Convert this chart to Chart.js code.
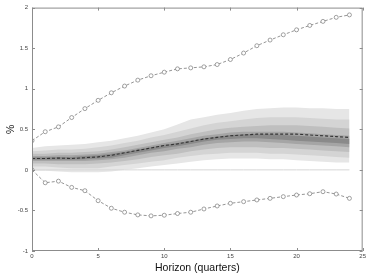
<!DOCTYPE html>
<html>
<head>
<meta charset="utf-8">
<script src="https://cdn.jsdelivr.net/npm/chart.js@4"></script>
<style>
  html, body { margin: 0; padding: 0; background: #fff; }
  #wrap { width: 368px; height: 277px; position: relative; }
</style>
</head>
<body>
<div id="wrap"><canvas id="c"></canvas></div>
<script>
// ── DATA ────────────────────────────────────────────────────
const horizons = [0,1,2,3,4,5,6,7,8,9,10,11,12,13,14,15,16,17,18,19,20,21,22,23,24];

const median = [0.14,0.14,0.145,0.14,0.15,0.16,0.18,0.21,0.24,0.27,0.30,0.32,0.35,0.38,0.40,0.42,0.43,0.44,0.44,0.44,0.44,0.43,0.42,0.41,0.40];

const upperBound = [0.36,0.47,0.53,0.645,0.755,0.857,0.95,1.033,1.106,1.16,1.204,1.245,1.257,1.27,1.298,1.36,1.44,1.53,1.60,1.665,1.726,1.78,1.83,1.88,1.91];
const lowerBound = [0.0,-0.159,-0.139,-0.216,-0.257,-0.38,-0.473,-0.522,-0.555,-0.567,-0.559,-0.538,-0.522,-0.482,-0.445,-0.412,-0.392,-0.371,-0.351,-0.33,-0.31,-0.294,-0.269,-0.298,-0.351];

// fan bands, outer (5) to inner (1)
const up5 = [0.27,0.29,0.30,0.31,0.32,0.34,0.36,0.39,0.42,0.46,0.50,0.56,0.62,0.65,0.68,0.70,0.73,0.75,0.76,0.77,0.77,0.76,0.76,0.75,0.75];
const lo5 = [-0.01,-0.01,-0.02,-0.03,-0.03,-0.03,-0.02,0.0,0.02,0.04,0.06,0.08,0.10,0.12,0.13,0.14,0.14,0.14,0.13,0.13,0.12,0.11,0.10,0.09,0.09];
const up4 = [0.23,0.24,0.25,0.25,0.26,0.28,0.30,0.33,0.36,0.40,0.43,0.47,0.51,0.55,0.58,0.60,0.62,0.64,0.65,0.65,0.65,0.64,0.63,0.62,0.62];
const lo4 = [0.04,0.04,0.03,0.02,0.02,0.02,0.04,0.06,0.08,0.10,0.12,0.15,0.17,0.19,0.20,0.21,0.21,0.21,0.20,0.20,0.19,0.18,0.17,0.16,0.15];
const up3 = [0.20,0.20,0.21,0.21,0.22,0.23,0.25,0.28,0.31,0.34,0.37,0.40,0.44,0.47,0.50,0.52,0.53,0.54,0.55,0.55,0.55,0.54,0.53,0.52,0.51];
const lo3 = [0.08,0.08,0.07,0.07,0.07,0.08,0.09,0.11,0.13,0.16,0.18,0.20,0.23,0.25,0.27,0.28,0.28,0.28,0.27,0.27,0.26,0.25,0.24,0.23,0.22];
const up2 = [0.17,0.17,0.18,0.18,0.19,0.20,0.22,0.24,0.27,0.30,0.33,0.36,0.39,0.42,0.44,0.46,0.47,0.47,0.47,0.47,0.46,0.45,0.44,0.43,0.42];
const lo2 = [0.11,0.11,0.11,0.11,0.11,0.12,0.13,0.15,0.18,0.21,0.23,0.26,0.28,0.31,0.33,0.34,0.35,0.35,0.34,0.33,0.32,0.31,0.30,0.29,0.28];
const up1 = [0.155,0.155,0.16,0.16,0.17,0.18,0.20,0.22,0.25,0.28,0.31,0.33,0.36,0.39,0.41,0.43,0.44,0.44,0.44,0.43,0.42,0.41,0.40,0.39,0.38];
const lo1 = [0.125,0.125,0.125,0.125,0.13,0.14,0.15,0.18,0.21,0.24,0.27,0.29,0.32,0.35,0.37,0.38,0.39,0.39,0.38,0.37,0.36,0.35,0.34,0.33,0.32];

const zeroLine = [0,0,0,0,0,0,0,0,0,0,0,0,0,0,0,0,0,0,0,0,0,0,0,0,0];

const xTicks = [0,5,10,15,20,25];
const yTicks = [-1,-0.5,0,0.5,1,1.5,2];

// ── HELPERS ─────────────────────────────────────────────────
const pts = arr => horizons.map((h, i) => ({ x: h, y: arr[i] }));

function band(arr, color, target) {
  return { data: pts(arr), borderWidth: 0, pointRadius: 0, backgroundColor: color,
           fill: target === undefined ? false : { target: target } };
}

function circles(arr) {
  return { data: pts(arr), borderColor: '#7a7a7a', borderWidth: 0.8, borderDash: [3, 2],
           pointStyle: 'circle', pointRadius: 2, pointBorderWidth: 0.7,
           pointBorderColor: '#7a7a7a', pointBackgroundColor: '#fff', fill: false, tension: 0 };
}

// index layout: 0 median, 1 upper, 2 lower, 3 zero, then bands (inner first, drawn on top)
const datasets = [
  { data: pts(median), borderColor: '#333', borderWidth: 1.1, borderDash: [3, 2], pointRadius: 0, fill: false },
  circles(upperBound),
  circles(lowerBound),
  { data: pts(zeroLine), borderColor: '#d6d6d6', borderWidth: 1, pointRadius: 0, fill: false },
  band(up1, '#8a8a8a', 5), band(lo1),
  band(up2, '#a5a5a5', 7), band(lo2),
  band(up3, '#bfbfbf', 9), band(lo3),
  band(up4, '#d4d4d4', 11), band(lo4),
  band(up5, '#e6e6e6', 13), band(lo5)
];

// ── AXES BOX + INWARD TICKS ─────────────────────────────────
const boxTicks = {
  id: 'boxTicks',
  afterDraw(chart) {
    const { ctx, chartArea: a, scales: { x, y } } = chart;
    ctx.save();
    ctx.strokeStyle = '#8c8c8c';
    ctx.lineWidth = 1;
    ctx.strokeRect(a.left + 0.5, a.top + 0.5, a.right - a.left - 1, a.bottom - a.top - 1);
    ctx.beginPath();
    xTicks.forEach(v => {
      const px = Math.round(x.getPixelForValue(v)) + 0.5;
      ctx.moveTo(px, a.bottom); ctx.lineTo(px, a.bottom - 3);
      ctx.moveTo(px, a.top); ctx.lineTo(px, a.top + 3);
    });
    yTicks.forEach(v => {
      const py = Math.round(y.getPixelForValue(v)) + 0.5;
      ctx.moveTo(a.left, py); ctx.lineTo(a.left + 3, py);
      ctx.moveTo(a.right, py); ctx.lineTo(a.right - 3, py);
    });
    ctx.stroke();
    ctx.restore();
  }
};

new Chart(document.getElementById('c'), {
  type: 'line',
  data: { datasets },
  options: {
    responsive: true, maintainAspectRatio: false, animation: false,
    layout: { padding: { top: 6, right: 3, left: 0, bottom: 0 } },
    plugins: { legend: { display: false }, tooltip: { enabled: false } },
    scales: {
      x: {
        type: 'linear', min: 0, max: 25,
        grid: { display: false, drawTicks: false, tickLength: 0 }, border: { display: false },
        afterBuildTicks: s => { s.ticks = xTicks.map(v => ({ value: v })); },
        ticks: { color: '#444', font: { size: 6, family: 'Liberation Sans' }, padding: 2, maxRotation: 0 },
        title: { display: true, text: 'Horizon (quarters)', color: '#111',
                 font: { size: 10.5, family: 'Liberation Sans' }, padding: { top: 0, bottom: 3 } },
        afterFit: s => { s.height = 26; }
      },
      y: {
        min: -1, max: 2,
        grid: { display: false, drawTicks: false, tickLength: 0 }, border: { display: false },
        afterBuildTicks: s => { s.ticks = yTicks.map(v => ({ value: v })); },
        ticks: { color: '#444', font: { size: 6, family: 'Liberation Sans' }, padding: 4,
                 callback: v => String(v) },
        title: { display: true, text: '%', color: '#111',
                 font: { size: 10.5, family: 'Liberation Sans' }, padding: { top: 5, bottom: 0 } },
        afterFit: s => { s.width = 32; }
      }
    }
  },
  plugins: [boxTicks]
});
</script>
</body>
</html>
